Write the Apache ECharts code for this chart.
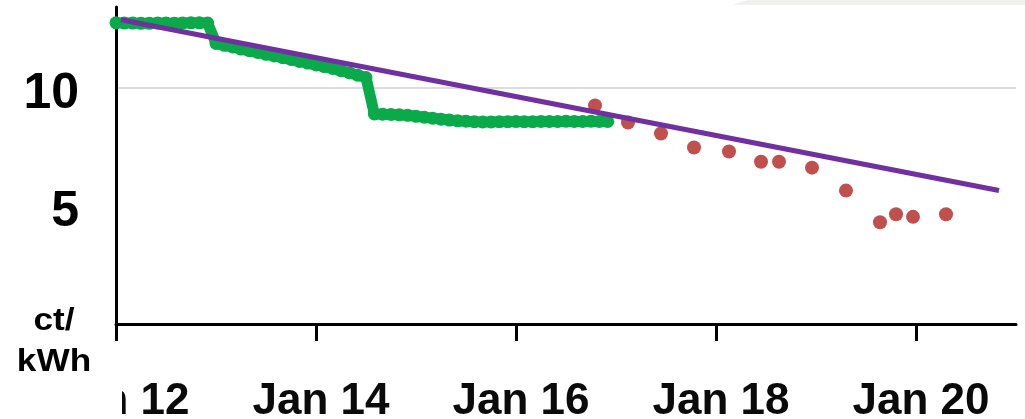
<!DOCTYPE html>
<html>
<head>
<meta charset="utf-8">
<script src="https://cdn.jsdelivr.net/npm/echarts@6/dist/echarts.min.js"></script>
<style>
html,body{margin:0;padding:0;background:#fff;}
#chart{width:1025px;height:419px;}
</style>
</head>
<body>
<div id="chart"></div>
<script>
// Tick labels
const xTickDays = [12, 14, 16, 18, 20];
const yTickValues = [5, 10];
const unitLines = ['ct/', 'kWh'];

// Green series: two-hourly samples starting Jan 12 00:00 (ct/kWh)
const greenStartDay = 12;
const greenStepHours = 2;
const greenValues = [
  12.73, 12.72, 12.72, 12.71, 12.71, 12.72, 12.72, 12.71, 12.72, 12.73, 12.73, 12.72,
  11.86, 11.78, 11.71, 11.62, 11.55, 11.48, 11.40, 11.33, 11.26, 11.18, 11.10, 11.03,
  10.95, 10.88, 10.80, 10.71, 10.62, 10.52, 10.42,
  8.88, 8.87, 8.86, 8.84, 8.82, 8.78, 8.74, 8.70, 8.66, 8.62, 8.59, 8.57,
  8.55, 8.54, 8.54, 8.55, 8.55, 8.56, 8.55, 8.55, 8.56, 8.56, 8.56, 8.57,
  8.56, 8.56, 8.57, 8.56, 8.56
];

// Red series: days and values
const redDays = [16.79, 17.12, 17.45, 17.78, 18.13, 18.45, 18.63, 18.96, 19.30, 19.64, 19.80, 19.97, 20.30];
const redValues = [9.24, 8.52, 8.05, 7.46, 7.29, 6.86, 6.86, 6.61, 5.64, 4.30, 4.64, 4.53, 4.64];

// Purple trend line endpoints
const trendDays = [12.05, 20.83];
const trendValues = [12.86, 5.64];

const greenData = greenValues.map((v, i) => [greenStartDay + i * greenStepHours / 24, v]);
const redData = redDays.map((d, i) => [d, redValues[i]]);
const trendData = trendDays.map((d, i) => [d, trendValues[i]]);

const chart = echarts.init(document.getElementById('chart'), null, {renderer: 'canvas'});
chart.setOption({
  animation: false,
  backgroundColor: '#ffffff',
  grid: {left: 116, right: 9, top: 7, bottom: 95, containLabel: false, outerBoundsMode: 'none'},
  xAxis: {
    type: 'value',
    min: 12, max: 21, interval: 2,
    axisLine: {show: true, lineStyle: {color: '#000', width: 3}},
    axisTick: {show: true, length: 17, lineStyle: {color: '#000', width: 3}, customValues: xTickDays},
    axisLabel: {
      customValues: xTickDays,
      formatter: v => 'Jan ' + v,
      fontSize: 44, fontWeight: 'bold', color: '#0a0a0a',
      fontFamily: "'Liberation Sans', Arial, sans-serif",
      margin: 56, padding: [0, 0, 0, 10]
    },
    splitLine: {show: false}
  },
  yAxis: {
    type: 'value',
    min: 0, max: 13.4, interval: 5,
    axisLine: {show: true, lineStyle: {color: '#000', width: 3}},
    axisTick: {show: false},
    axisLabel: {
      formatter: v => (yTickValues.indexOf(v) >= 0 ? '{v|' + v + '}' : ''),
      color: '#000',
      margin: 37,
      rich: {
        v: {fontSize: 50, fontWeight: 'bold', color: '#000', fontFamily: "'Liberation Sans', Arial, sans-serif", padding: [14, 0, 0, 0]}
      }
    },
    splitLine: {show: true, lineStyle: {color: ['rgba(0,0,0,0)', 'rgba(0,0,0,0)', '#dcdcdc', 'rgba(0,0,0,0)'], width: 2}}
  },
  series: [
    {
      type: 'line', data: greenData, z: 2,
      symbol: 'circle', symbolSize: 13, showSymbol: true,
      itemStyle: {color: '#0aaa4a', opacity: 1},
      lineStyle: {color: '#0aaa4a', width: 11},
      silent: true
    },
    {
      type: 'scatter', data: redData, z: 3,
      symbol: 'circle', symbolSize: 14,
      itemStyle: {color: '#c0504d', opacity: 1},
      silent: true
    },
    {
      type: 'line', data: trendData, z: 4,
      symbol: 'none',
      lineStyle: {color: '#7030a0', width: 5},
      silent: true
    }
  ],
  graphic: [
    {type: 'polygon', z: 0, shape: {points: [[733, 5], [747, 0], [1025, 0], [1025, 5]]}, style: {fill: '#f1f1ef'}},
    {type: 'rect', z: 100, shape: {x: 0, y: 375, width: 122, height: 44}, style: {fill: '#ffffff'}},
    {type: 'text', z: 101, x: 54, y: 321, scaleX: 1.1,
      style: {text: unitLines[0], fontSize: 32, fontWeight: 'bold', fontFamily: "'Liberation Sans', Arial, sans-serif", fill: '#000', textAlign: 'center', textVerticalAlign: 'middle'}},
    {type: 'text', z: 101, x: 54, y: 362, scaleX: 1.1,
      style: {text: unitLines[1], fontSize: 32, fontWeight: 'bold', fontFamily: "'Liberation Sans', Arial, sans-serif", fill: '#000', textAlign: 'center', textVerticalAlign: 'middle'}}
  ]
});
</script>
</body>
</html>
